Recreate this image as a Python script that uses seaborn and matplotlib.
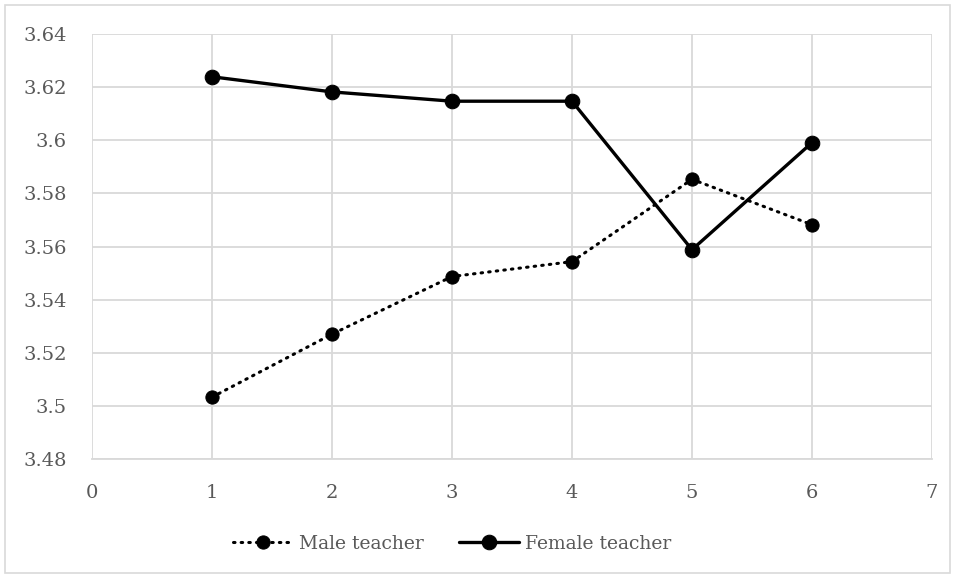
import matplotlib
matplotlib.use("Agg")
import matplotlib.pyplot as plt
import seaborn as sns
import pandas as pd
from matplotlib.patches import Rectangle

grades = [1, 2, 3, 4, 5, 6]
male_scores = [3.5033, 3.5270, 3.5487, 3.5543, 3.5853, 3.5682]
female_scores = [3.6239, 3.6182, 3.6147, 3.6147, 3.5588, 3.5991]
x_ticks = [0, 1, 2, 3, 4, 5, 6, 7]
y_ticks = [3.48, 3.50, 3.52, 3.54, 3.56, 3.58, 3.60, 3.62, 3.64]
y_labels = ["3.48", "3.5", "3.52", "3.54", "3.56", "3.58", "3.6", "3.62", "3.64"]

sns.set_theme(style="white")
plt.rcParams["font.family"] = ["DejaVu Serif"]

male_df = pd.DataFrame({"grade": grades, "score": male_scores})
female_df = pd.DataFrame({"grade": grades, "score": female_scores})

fig = plt.figure(figsize=(9.55, 5.78), dpi=100)
ax = fig.add_axes([92 / 955, 1 - 459 / 578, 840 / 955, 425 / 578])

# dotted series with round dots, like the Excel "round dot" dash
sns.lineplot(data=male_df, x="grade", y="score", ax=ax, color="black",
             linewidth=2.2, linestyle=(0, (0.5, 2.0)), dash_capstyle="round",
             marker="o", markersize=9.5, markeredgecolor="black",
             label="Male teacher")
sns.lineplot(data=female_df, x="grade", y="score", ax=ax, color="black",
             linewidth=2.4, marker="o", markersize=10.5,
             markeredgecolor="black", label="Female teacher")

ax.set_xlim(0, 7)
ax.set_ylim(3.48, 3.64)
ax.set_xticks(x_ticks)
ax.set_yticks(y_ticks)
ax.set_yticklabels(y_labels)
ax.set_xlabel("")
ax.set_ylabel("")
ax.grid(True, color="#d9d9d9", linewidth=1.3)
ax.set_axisbelow(True)
for side in ["top", "right", "left"]:
    ax.spines[side].set_visible(False)
ax.spines["bottom"].set_color("#d9d9d9")
ax.spines["bottom"].set_linewidth(1.3)
ax.tick_params(axis="both", length=0, labelsize=14, labelcolor="#595959")
ax.tick_params(axis="y", pad=18)
ax.tick_params(axis="x", pad=18)

ax.legend(loc="center", bbox_to_anchor=(0.4286, -0.2), ncol=2,
          frameon=False, fontsize=13.5, handlelength=3.2, columnspacing=1.9,
          handletextpad=0.3, labelcolor="#595959")

fig.patches.append(Rectangle((5 / 955, 5 / 578), 945 / 955, 568 / 578,
                             transform=fig.transFigure, fill=False,
                             edgecolor="#d9d9d9", linewidth=1.2))

fig.savefig("out.png", dpi=100, facecolor="white")
